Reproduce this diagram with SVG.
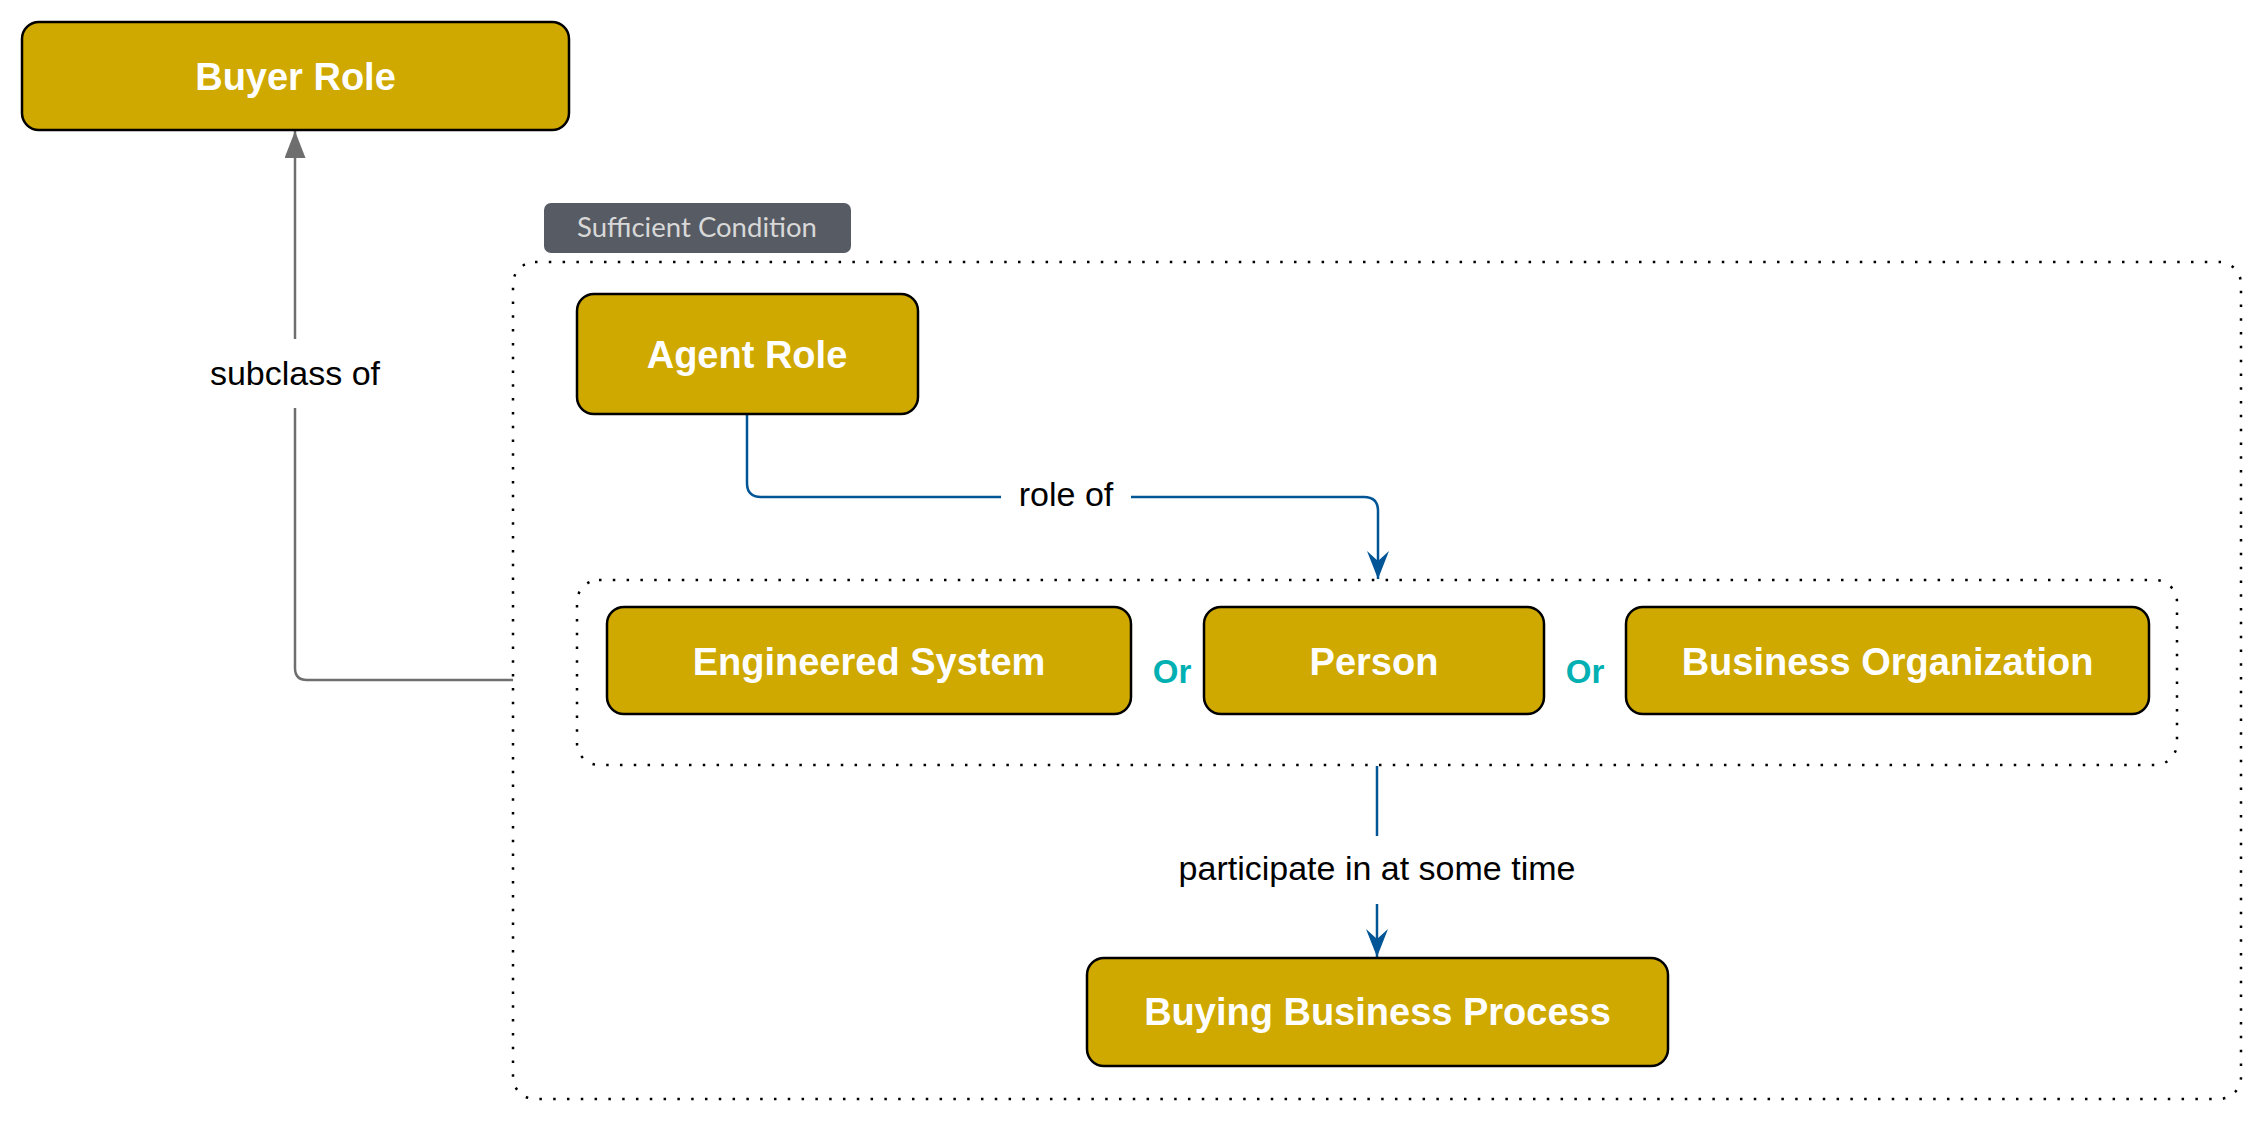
<svg xmlns="http://www.w3.org/2000/svg" width="2263" height="1122" viewBox="0 0 2263 1122">
<style>
.node rect{fill:#cfa800;stroke:#000;stroke-width:2.5}
.node text{font-family:"Liberation Sans",Arial,sans-serif;font-weight:bold;font-size:38px;fill:#fff;text-anchor:middle}
.dotted{fill:none;stroke:#000;stroke-width:2.5;stroke-dasharray:2.5 11.3}
.lbl{font-family:"Liberation Sans",Arial,sans-serif;font-size:34px;fill:#000;text-anchor:middle}
.or{font-family:"Liberation Sans",Arial,sans-serif;font-weight:bold;font-size:33px;fill:#00b0b2;text-anchor:middle}
.gray{fill:none;stroke:#6e6e6e;stroke-width:2.5}
.blue{fill:none;stroke:#005596;stroke-width:2.5}
</style>
<defs>
<marker id="grayArrow" markerUnits="userSpaceOnUse" viewBox="0 0 27 21" markerWidth="27" markerHeight="21" refX="27" refY="10.5" orient="auto">
<path d="M0,0 L27,10.5 L0,21 Z" fill="#6e6e6e"/>
</marker>
<marker id="blueArrow" markerUnits="userSpaceOnUse" viewBox="0 0 28 22" markerWidth="28" markerHeight="22" refX="28" refY="11" orient="auto">
<path d="M0,0 L28,11 L0,22 L10,11 Z" fill="#005596"/>
</marker>
</defs>
<rect width="2263" height="1122" fill="#fff"/>

<g id="sufficient-condition">
<rect class="dotted" x="513" y="262" width="1728" height="837" rx="22"/>
<rect x="544" y="203" width="307" height="50" rx="7" fill="#575b63"/>
<text x="697" y="237" font-family="Lato,'Open Sans',sans-serif" font-size="27" fill="#d8d8d8" text-anchor="middle" textLength="240" lengthAdjust="spacingAndGlyphs">Sufficient Condition</text>
</g>

<g id="or-group">
<rect class="dotted" x="577" y="580" width="1600" height="185" rx="22"/>
<text class="or" x="1172" y="683">Or</text>
<text class="or" x="1585" y="683">Or</text>
</g>

<g id="connectors">
<path class="gray" d="M513,680 H307 Q295,680 295,668 V408"/>
<path class="gray" d="M295,339 V131" marker-end="url(#grayArrow)"/>
<text class="lbl" x="295" y="385">subclass of</text>
<path class="blue" d="M747,414 V483 Q747,497 761,497 H1001"/>
<path class="blue" d="M1131,497 H1364 Q1378,497 1378,511 V579" marker-end="url(#blueArrow)"/>
<text class="lbl" x="1066" y="506">role of</text>
<path class="blue" d="M1377,766 V836"/>
<path class="blue" d="M1377,904 V957" marker-end="url(#blueArrow)"/>
<text class="lbl" x="1377" y="880">participate in at some time</text>
</g>

<g id="buyer-role" class="node">
<rect x="22" y="22" width="547" height="108" rx="17"/>
<text x="295.5" y="90">Buyer Role</text>
</g>
<g id="agent-role" class="node">
<rect x="577" y="294" width="341" height="120" rx="17"/>
<text x="747" y="368">Agent Role</text>
</g>
<g id="engineered-system" class="node">
<rect x="607" y="607" width="524" height="107" rx="17"/>
<text x="869" y="675">Engineered System</text>
</g>
<g id="person" class="node">
<rect x="1204" y="607" width="340" height="107" rx="17"/>
<text x="1374" y="675">Person</text>
</g>
<g id="business-organization" class="node">
<rect x="1626" y="607" width="523" height="107" rx="17"/>
<text x="1887.5" y="675">Business Organization</text>
</g>
<g id="buying-business-process" class="node">
<rect x="1087" y="958" width="581" height="108" rx="17"/>
<text x="1377.5" y="1025">Buying Business Process</text>
</g>
</svg>
